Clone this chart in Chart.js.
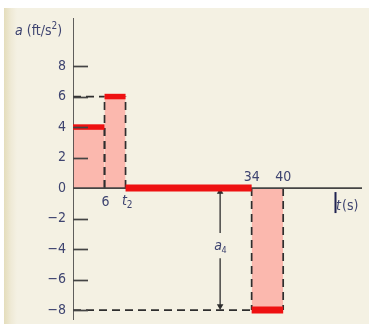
<!DOCTYPE html>
<html>
<head>
<meta charset="utf-8">
<script src="https://cdn.jsdelivr.net/npm/chart.js@4.4.0/dist/chart.umd.min.js"></script>
<style>
  body { margin: 0; background: #ffffff; }
  #wrap {
    position: relative; width: 369px; height: 327px; overflow: hidden; background: #ffffff;
  }
  #paper {
    position: absolute; left: 4px; top: 8px; width: 365px; height: 316px;
    background: linear-gradient(to right, #e4ddbb 0px, #efead6 7px, #f4f1e3 13px, #f4f1e3 100%);
  }
  canvas { position: absolute; left: 0; top: 0; }
</style>
</head>
<body>
<div id="wrap">
  <div id="paper"></div>
  <canvas id="myChart" width="369" height="327"></canvas>
</div>
<script>
// acceleration-time diagram, piecewise constant
const segStart = [0, 6, 10, 34];
const segEnd = [6, 10, 34, 40];
const accel = [4, 6, 0, -8];

const yTicks = [-8, -6, -4, -2, 0, 2, 4, 6, 8];
const xTicksBelow = [6, 10];
const xTicksBelowText = ['6', 't'];
const xTicksAbove = [34, 40];

const tMax = 55;
const aMin = -8.65;
const aMax = 11.15;

const arrowT = 28;
const arrowGap = [-2.95, -4.6];

const RED = '#ee1111';
const PINK = '#fbb8ae';
const INK = '#2e2e2e';
const TXT = '#3e4470';
const FONT = "'Liberation Sans Narrow', 'DejaVu Sans Condensed', 'Liberation Sans', sans-serif";

let datasets = [];

// pink areas
for (let i = 0; i < accel.length; i++) {
  if (accel[i] === 0) continue;
  datasets.push({
    data: [{ x: segStart[i], y: accel[i] }, { x: segEnd[i], y: accel[i] }],
    showLine: true, borderWidth: 0, borderColor: 'rgba(0,0,0,0)',
    backgroundColor: PINK, fill: 'origin', order: 6
  });
}

// dashed guide lines
for (let i = 0; i < accel.length; i++) {
  if (accel[i] === 0) continue;
  if (segStart[i] > 0) {
    datasets.push({ data: [{ x: segStart[i], y: 0 }, { x: segStart[i], y: accel[i] }], dashed: true });
    datasets.push({ data: [{ x: 0, y: accel[i] }, { x: segStart[i], y: accel[i] }], dashed: true });
  }
  datasets.push({ data: [{ x: segEnd[i], y: 0 }, { x: segEnd[i], y: accel[i] }], dashed: true });
}
datasets.forEach(d => {
  if (d.dashed) {
    Object.assign(d, { showLine: true, borderColor: INK, borderWidth: 1.7, borderDash: [8, 5], fill: false, order: 4 });
  }
});

// axes
datasets.push({ data: [{ x: 0, y: 0 }, { x: tMax, y: 0 }], showLine: true, borderColor: '#444444', borderWidth: 1.7, order: 3 });
datasets.push({ data: [{ x: 0, y: aMin }, { x: 0, y: aMax }], showLine: true, borderColor: '#444444', borderWidth: 1.7, order: 3 });

// a4 arrow
datasets.push({
  data: [{ x: arrowT, y: -0.25 }, { x: arrowT, y: arrowGap[0] }], showLine: true,
  borderColor: INK, borderWidth: 1.3, order: 2,
  pointRadius: [2.5, 0], pointStyle: 'triangle', pointRotation: 0, backgroundColor: INK
});
datasets.push({
  data: [{ x: arrowT, y: arrowGap[1] }, { x: arrowT, y: -7.75 }], showLine: true,
  borderColor: INK, borderWidth: 1.3, order: 2,
  pointRadius: [0, 2.5], pointStyle: 'triangle', pointRotation: 180, backgroundColor: INK
});

// red levels
for (let i = 0; i < accel.length; i++) {
  datasets.push({
    data: [{ x: segStart[i], y: accel[i] }, { x: segEnd[i], y: accel[i] }],
    showLine: true, borderColor: RED, borderWidth: accel[i] === 0 || accel[i] === -8 ? 7 : 5.5,
    borderCapStyle: 'butt', order: 1
  });
}

const labelsPlugin = {
  id: 'labelsPlugin',
  afterDatasetsDraw(chart) {
    const ctx = chart.ctx;
    const xs = chart.scales.x;
    const ys = chart.scales.y;
    const x0 = xs.getPixelForValue(0);
    const y0 = ys.getPixelForValue(0);
    ctx.save();

    // inner tick marks on a axis
    ctx.strokeStyle = '#444444';
    ctx.lineWidth = 1.7;
    yTicks.forEach(v => {
      if (v === 0) return;
      const py = Math.round(ys.getPixelForValue(v)) + 0.5;
      ctx.beginPath();
      ctx.moveTo(x0, py);
      ctx.lineTo(x0 + 15, py);
      ctx.stroke();
    });

    ctx.fillStyle = TXT;
    ctx.textBaseline = 'alphabetic';

    // t labels below
    ctx.font = '14px ' + FONT;
    ctx.textAlign = 'center';
    ctx.fillText(xTicksBelowText[0], xs.getPixelForValue(xTicksBelow[0]) + 1, y0 + 18);
    ctx.font = 'italic 14px ' + FONT;
    const tx = xs.getPixelForValue(xTicksBelow[1]) - 1;
    ctx.fillText(xTicksBelowText[1], tx, y0 + 17);
    ctx.font = '10px ' + FONT;
    ctx.fillText('2', tx + 5, y0 + 20);

    // t labels above
    ctx.font = '14px ' + FONT;
    xTicksAbove.forEach(v => {
      ctx.fillText(String(v), xs.getPixelForValue(v), y0 - 7);
    });

    // a4
    const ax = xs.getPixelForValue(arrowT);
    const ay = ys.getPixelForValue((arrowGap[0] + arrowGap[1]) / 2);
    ctx.font = 'italic 14px ' + FONT;
    ctx.fillText('a', ax - 2, ay + 4);
    ctx.font = '9px ' + FONT;
    ctx.fillText('4', ax + 4, ay + 7);

    // axis titles
    ctx.textAlign = 'left';
    ctx.font = 'italic 14px ' + FONT;
    ctx.fillText('a', 15, 35);
    let w = ctx.measureText('a ').width;
    ctx.font = '14px ' + FONT;
    ctx.fillText('(ft/s', 15 + w, 35);
    w += ctx.measureText('(ft/s').width;
    ctx.font = '10px ' + FONT;
    ctx.fillText('2', 15 + w, 29);
    w += ctx.measureText('2').width;
    ctx.font = '14px ' + FONT;
    ctx.fillText(')', 15 + w, 35);

    const rx = chart.chartArea.right;
    ctx.font = 'italic 14px ' + FONT;
    ctx.fillText('t', rx - 26, y0 + 22);
    ctx.font = '14px ' + FONT;
    ctx.fillText('(s)', rx - 20, y0 + 22);
    ctx.fillStyle = '#1f2250';
    ctx.fillRect(rx - 27.5, y0 + 4, 2, 21);

    ctx.restore();
  }
};

new Chart(document.getElementById('myChart').getContext('2d'), {
  type: 'scatter',
  data: { datasets: datasets },
  options: {
    responsive: false,
    animation: false,
    layout: { padding: { left: 0, top: 18, right: 7, bottom: 7 } },
    elements: { point: { radius: 0, hoverRadius: 0 }, line: { tension: 0 } },
    plugins: { legend: { display: false }, tooltip: { enabled: false } },
    scales: {
      x: { type: 'linear', min: 0, max: tMax, display: false },
      y: {
        type: 'linear', min: aMin, max: aMax,
        grid: { display: false, drawTicks: false },
        border: { display: false },
        afterBuildTicks: s => { s.ticks = yTicks.map(v => ({ value: v })); },
        afterFit: s => { s.width = 73; s.paddingTop = 0; s.paddingBottom = 0; },
        ticks: {
          padding: 7,
          color: TXT,
          font: { family: FONT, size: 14 },
          callback: v => (v < 0 ? '\u2212' + Math.abs(v) : String(v))
        }
      }
    }
  },
  plugins: [labelsPlugin]
});
</script>
</body>
</html>
